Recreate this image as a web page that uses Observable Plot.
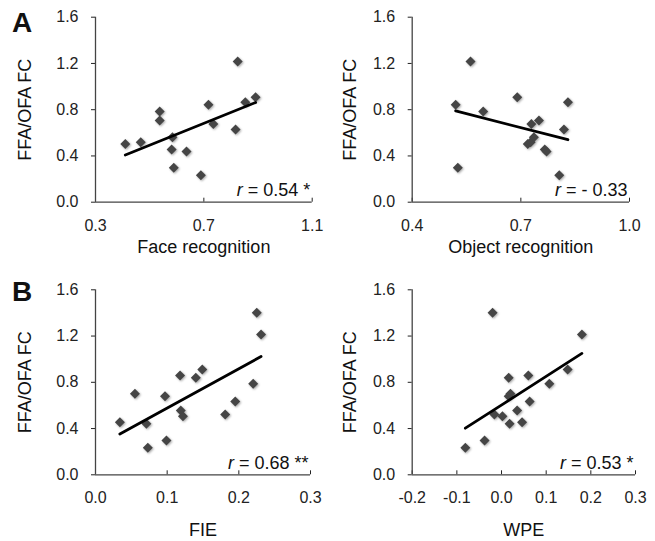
<!DOCTYPE html>
<html>
<head>
<meta charset="utf-8">
<script src="https://cdn.jsdelivr.net/npm/d3@7"></script>
<script src="https://cdn.jsdelivr.net/npm/@observablehq/plot@0.6"></script>
<style>
  html, body { margin: 0; padding: 0; background: #fff; }
  #wrap { position: relative; width: 655px; height: 541px; overflow: hidden; font-family: "Liberation Sans", Arial, sans-serif; }
  .panel { position: absolute; }
  .tag { position: absolute; font-weight: bold; font-size: 28px; line-height: 28px; color: #111; }
  g[aria-label="dot"] { filter: drop-shadow(1px 1.5px 1px rgba(0,0,0,0.35)); }
</style>
</head>
<body>
<div id="wrap"></div>
<script>
// ---- data ----
const yLabel = "FFA/OFA FC";
const yTicks = [0, 0.4, 0.8, 1.2, 1.6];

// Panel A left: Face recognition
const faceRecog = [0.410, 0.467, 0.537, 0.537, 0.584, 0.581, 0.589, 0.636, 0.689, 0.717, 0.735, 0.817, 0.825, 0.853, 0.891];
const fcFace    = [0.504, 0.519, 0.784, 0.706, 0.562, 0.455, 0.297, 0.438, 0.234, 0.842, 0.677, 0.628, 1.217, 0.865, 0.908];
const faceTicks = [0.3, 0.7, 1.1];

// Panel A right: Object recognition
const objRecog = [0.520, 0.526, 0.561, 0.596, 0.690, 0.729, 0.750, 0.719, 0.727, 0.736, 0.766, 0.771, 0.819, 0.806, 0.830];
const fcObj    = [0.842, 0.297, 1.217, 0.784, 0.908, 0.677, 0.706, 0.504, 0.519, 0.562, 0.455, 0.438, 0.628, 0.234, 0.865];
const objTicks = [0.4, 0.7, 1.0];

// Panel B left: FIE
const fie   = [0.034, 0.055, 0.071, 0.073, 0.097, 0.099, 0.118, 0.119, 0.122, 0.140, 0.149, 0.181, 0.195, 0.220, 0.225, 0.231];
const fcFie = [0.455, 0.700, 0.441, 0.234, 0.680, 0.297, 0.859, 0.556, 0.507, 0.839, 0.911, 0.522, 0.634, 0.787, 1.401, 1.214];
const fieTicks = [0, 0.1, 0.2, 0.3];

// Panel B right: WPE
const wpe   = [-0.081, -0.038, -0.020, -0.016, 0.002, 0.016, 0.016, 0.020, 0.018, 0.035, 0.046, 0.060, 0.063, 0.107, 0.148, 0.180];
const fcWpe = [0.234, 0.297, 1.401, 0.522, 0.507, 0.839, 0.680, 0.700, 0.441, 0.556, 0.455, 0.859, 0.634, 0.787, 0.911, 1.214];
const wpeTicks = [-0.2, -0.1, 0, 0.1, 0.2, 0.3];

const panels = [
  {xs: faceRecog, ys: fcFace, ticks: faceTicks, xlabel: "Face recognition", r: "r = 0.54 *",
   left: 0, top: 0, width: 327, height: 270, mt: 16.7, mb: 68.3, ml: 95, mr: 15.3, xlDy: 45.5, ylDx: -70},
  {xs: objRecog, ys: fcObj, ticks: objTicks, xlabel: "Object recognition", r: "r = - 0.33",
   left: 327, top: 0, width: 328, height: 270, mt: 16.7, mb: 68.3, ml: 84.7, mr: 26, xlDy: 45.5, ylDx: -62},
  {xs: fie, ys: fcFie, ticks: fieTicks, xlabel: "FIE", r: "r = 0.68 **",
   left: 0, top: 270, width: 327, height: 271, mt: 19.3, mb: 66.7, ml: 95, mr: 17, xlDy: 55.5, ylDx: -70},
  {xs: wpe, ys: fcWpe, ticks: wpeTicks, xlabel: "WPE", r: "r = 0.53 *",
   left: 327, top: 270, width: 328, height: 271, mt: 19.3, mb: 66.7, ml: 84.7, mr: 20, xlDy: 55.5, ylDx: -62}
];

const wrap = document.getElementById("wrap");
const fmt = d => (+d).toFixed(1);
const axisColor = "#444";

for (const p of panels) {
  const data = p.xs.map((x, i) => ({x, y: p.ys[i]}));
  const xDomain = [p.ticks[0], p.ticks[p.ticks.length - 1]];
  const svg = Plot.plot({
    width: p.width,
    height: p.height,
    marginTop: p.mt, marginBottom: p.mb, marginLeft: p.ml, marginRight: p.mr,
    style: {fontFamily: "'Liberation Sans', Arial, sans-serif", fontSize: "16px", color: "#222", background: "transparent", overflow: "visible"},
    x: {domain: xDomain, ticks: p.ticks, tickFormat: fmt, tickSize: -4, tickPadding: 21, label: null},
    y: {domain: [0, 1.6], ticks: yTicks, tickFormat: fmt, tickSize: 4, tickPadding: 13, label: null},
    marks: [
      Plot.ruleY([0], {stroke: axisColor, strokeWidth: 1.3}),
      Plot.ruleX([xDomain[0]], {stroke: axisColor, strokeWidth: 1.3}),
      Plot.dot(data, {x: "x", y: "y", symbol: "diamond2", r: 4.5, fill: "#454545", stroke: "none"}),
      Plot.linearRegressionY(data, {x: "x", y: "y", ci: 0, stroke: "#000", strokeWidth: 2.8}),
      Plot.text([p.r], {frameAnchor: "bottom-right", textAnchor: "end", lineAnchor: "middle", dx: -2, dy: -11.5, fontSize: 18, fill: "#111"}),
      Plot.text([p.xlabel], {frameAnchor: "bottom", textAnchor: "middle", lineAnchor: "middle", dy: p.xlDy, fontSize: 18, fill: "#111"}),
      Plot.text([yLabel], {frameAnchor: "left", textAnchor: "middle", lineAnchor: "middle", rotate: -90, dx: p.ylDx, fontSize: 18, fill: "#111"})
    ]
  });
  // italic "r"
  svg.querySelectorAll("text").forEach(t => {
    if (t.textContent === p.r) {
      const rest = p.r.slice(1);
      t.textContent = "";
      const ts = document.createElementNS("http://www.w3.org/2000/svg", "tspan");
      ts.setAttribute("font-style", "italic");
      ts.textContent = "r";
      t.appendChild(ts);
      t.appendChild(document.createTextNode(rest));
    }
  });
  const div = document.createElement("div");
  div.className = "panel";
  div.style.left = p.left + "px";
  div.style.top = p.top + "px";
  div.appendChild(svg);
  wrap.appendChild(div);
}

const tagA = document.createElement("div");
tagA.className = "tag"; tagA.textContent = "A";
tagA.style.left = "12px"; tagA.style.top = "9.3px";
wrap.appendChild(tagA);
const tagB = document.createElement("div");
tagB.className = "tag"; tagB.textContent = "B";
tagB.style.left = "12px"; tagB.style.top = "278.3px";
wrap.appendChild(tagB);
</script>
</body>
</html>
